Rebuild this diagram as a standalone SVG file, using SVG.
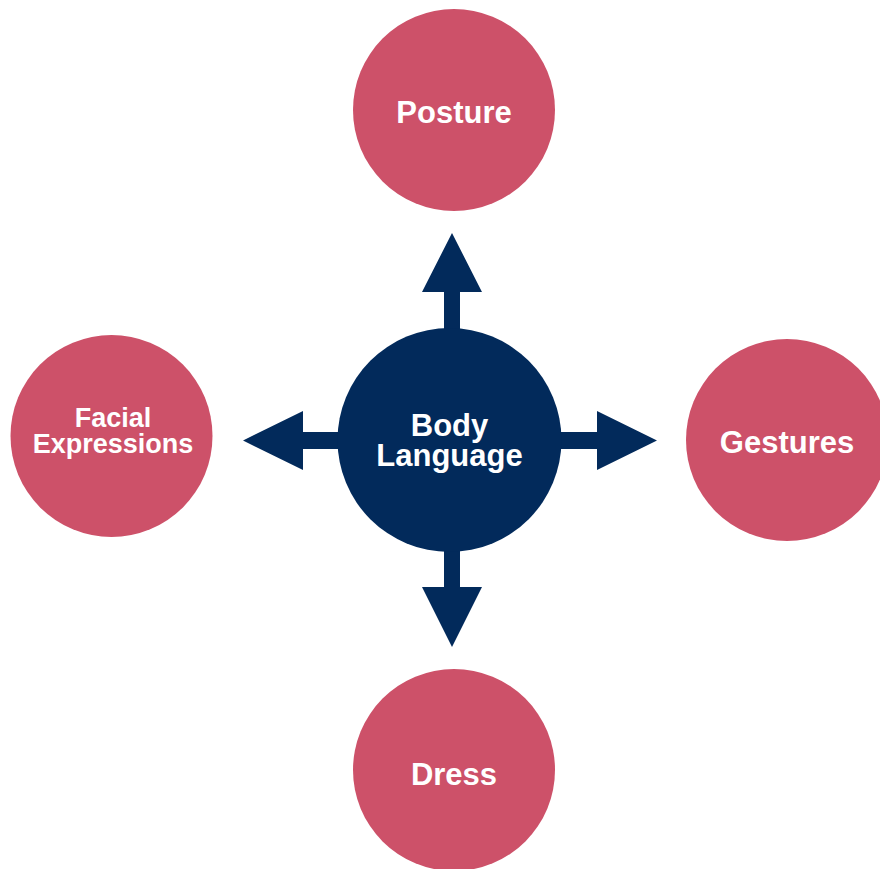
<svg xmlns="http://www.w3.org/2000/svg" width="880" height="869" viewBox="0 0 880 869">
<style>
.outer{fill:#cd5169}
.hub{fill:#022a5b}
.arrow{fill:#022a5b}
.lbl{font-family:"Liberation Sans",Arial,sans-serif;font-weight:bold;fill:#ffffff;text-anchor:middle;font-size:31px}
.small{font-size:27px}
</style>
<rect width="880" height="869" fill="#ffffff"/>
<g id="connectors">
<path class="arrow" d="M444,340 L444,292 L422,292 L452,233 L482,292 L460,292 L460,340 Z"/>
<path class="arrow" d="M444,540 L444,587 L422,587 L452,647 L482,587 L460,587 L460,540 Z"/>
<path class="arrow" d="M345,432 L303,432 L303,411 L243,440.5 L303,470 L303,449 L345,449 Z"/>
<path class="arrow" d="M555,432 L597,432 L597,411 L657,440.5 L597,470 L597,449 L555,449 Z"/>
</g>
<g id="body-language">
<circle class="hub" cx="449.5" cy="440" r="112"/>
<text class="lbl" x="449.5" y="436">Body</text>
<text class="lbl" x="449.5" y="466">Language</text>
</g>
<g id="posture">
<circle class="outer" cx="454" cy="110" r="101"/>
<text class="lbl" x="454" y="123">Posture</text>
</g>
<g id="facial-expressions">
<circle class="outer" cx="111.5" cy="436" r="101"/>
<text class="lbl small" x="113" y="427">Facial</text>
<text class="lbl small" x="113" y="453">Expressions</text>
</g>
<g id="gestures">
<circle class="outer" cx="787" cy="440" r="101"/>
<text class="lbl" x="787" y="453">Gestures</text>
</g>
<g id="dress">
<circle class="outer" cx="454" cy="770" r="101"/>
<text class="lbl" x="454" y="785">Dress</text>
</g>
</svg>
